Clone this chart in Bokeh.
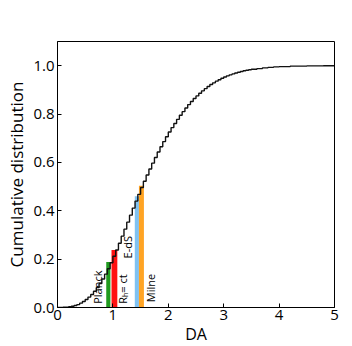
import numpy as np
from bokeh.plotting import figure
from bokeh.models import Range1d, FixedTicker, CustomJSTickFormatter
from bokeh.core.properties import value
from bokeh.embed import file_html
from bokeh.resources import INLINE

# Step edges (DA) and cumulative values
da_edges = [0.00, 0.05, 0.10, 0.15, 0.20, 0.25, 0.30, 0.35, 0.40, 0.45,
            0.50, 0.55, 0.60, 0.65, 0.70, 0.75, 0.80, 0.85, 0.90, 0.95,
            1.00, 1.05, 1.10, 1.15, 1.20, 1.25, 1.30, 1.35, 1.40, 1.45,
            1.50, 1.55, 1.60, 1.65, 1.70, 1.75, 1.80, 1.85, 1.90, 1.95,
            2.00, 2.05, 2.10, 2.15, 2.20, 2.25, 2.30, 2.35, 2.40, 2.45,
            2.50, 2.55, 2.60, 2.65, 2.70, 2.75, 2.80, 2.85, 2.90, 2.95,
            3.00, 3.05, 3.10, 3.15, 3.20, 3.25, 3.30, 3.35, 3.40, 3.45,
            3.50, 3.60, 3.70, 3.80, 3.90, 4.00, 4.20, 4.50, 4.80, 5.00]
cdf = [0.000, 0.000, 0.001, 0.001, 0.003, 0.005, 0.008, 0.012, 0.018, 0.025,
       0.033, 0.043, 0.054, 0.067, 0.082, 0.099, 0.118, 0.138, 0.160, 0.185,
       0.212, 0.238, 0.266, 0.295, 0.324, 0.353, 0.382, 0.411, 0.440, 0.468,
       0.496, 0.522, 0.548, 0.573, 0.597, 0.620, 0.643, 0.665, 0.686, 0.706,
       0.726, 0.744, 0.761, 0.778, 0.795, 0.810, 0.825, 0.839, 0.852, 0.864,
       0.875, 0.886, 0.896, 0.905, 0.914, 0.922, 0.929, 0.936, 0.942, 0.948,
       0.953, 0.958, 0.962, 0.966, 0.970, 0.973, 0.976, 0.979, 0.981, 0.983,
       0.985, 0.988, 0.991, 0.993, 0.995, 0.996, 0.998, 0.999, 1.000, 1.000]

# Marked models
model_names = ["Planck", "Rₕ= ct", "E-dS", "Milne"]
bar_left = [0.88, 0.975, 1.395, 1.47]
bar_right = [0.955, 1.08, 1.47, 1.56]
bar_top = [0.188, 0.238, 0.460, 0.503]
bar_colors = ["#1f9a1f", "#ff1010", "#80c2f2", "#ffa424"]
label_x = [0.727, 1.17, 1.27, 1.67]
label_y = [0.015, 0.015, 0.203, 0.022]

x_ticks = [0, 1, 2, 3, 4, 5]
y_ticks = [0.0, 0.2, 0.4, 0.6, 0.8, 1.0]

p = figure(frame_width=277, frame_height=266, output_backend="svg", toolbar_location=None,
           x_range=Range1d(0, 5), y_range=Range1d(0, 1.1),
           min_border_left=57, min_border_right=18, min_border_top=41, min_border_bottom=39)

p.quad(left=bar_left, right=bar_right, bottom=0, top=bar_top,
       fill_color=bar_colors, line_color=None)
p.step(x=da_edges, y=cdf, mode="after", line_color="#111111", line_width=1.4)

p.text(x=label_x, y=label_y, text=model_names, angle=np.pi / 2,
       text_align="left", text_baseline="middle",
       text_font=value("Open Sans"), text_font_size="11px", text_color="black")

p.xaxis.ticker = FixedTicker(ticks=x_ticks)
p.yaxis.ticker = FixedTicker(ticks=y_ticks)
p.yaxis.formatter = CustomJSTickFormatter(code="return tick.toFixed(1);")
for ax in (p.xaxis, p.yaxis):
    ax.major_tick_in = 4
    ax.major_tick_out = 0
    ax.minor_tick_line_color = None
    ax.axis_line_color = "black"
    ax.major_tick_line_color = "black"
    ax.major_label_text_font = "Open Sans"
    ax.major_label_text_font_size = "15px"
    ax.major_label_text_color = "black"
    ax.axis_label_text_font = "Open Sans"
    ax.axis_label_text_font_size = "16px"
    ax.axis_label_text_font_style = "normal"
    ax.axis_label_text_color = "black"
p.xaxis.axis_label = "DA"
p.yaxis.axis_label = "Cumulative distribution"
p.yaxis.axis_label_text_font_size = "17px"
p.xaxis.major_label_standoff = 2
p.yaxis.major_label_standoff = 3
p.xaxis.axis_label_standoff = 0
p.yaxis.axis_label_standoff = 2

p.grid.visible = False
p.outline_line_color = "black"
p.outline_line_width = 1
p.background_fill_color = "white"
p.border_fill_color = "white"

open("out.html", "w").write(file_html(p, INLINE))
